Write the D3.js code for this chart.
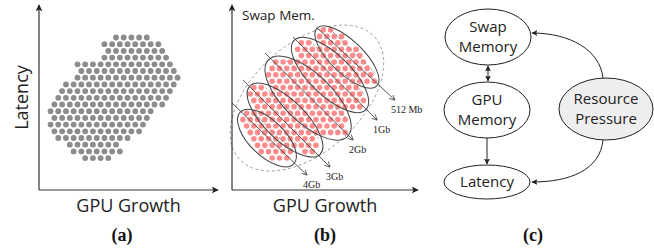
<!DOCTYPE html>
<html>
<head>
<meta charset="utf-8">
<script src="https://cdn.jsdelivr.net/npm/d3@7"></script>
<style>
  html, body { margin: 0; padding: 0; background: #fff; }
  svg { display: block; }
  .sans { font-family: "Open Sans", "Noto Sans", sans-serif; }
  .serif { font-family: "Liberation Serif", "DejaVu Serif", serif; }
</style>
</head>
<body>
<svg id="fig" width="654" height="249"></svg>
<script>
(function () {

  // ---- data (axis units 0-100) ----

  // (a) outline of the sample cloud
  var cloudOutline = [
    [50.8, 85.5], [60.3, 83.0], [70.4, 76.5], [78.5, 66.5], [78.0, 59.5],
    [72.1, 44.9], [65.9, 44.3], [62.0, 35.1], [53.6, 28.1], [46.4, 25.4],
    [46.9, 20.5], [33.0, 14.5], [27.4, 13.8], [17.3, 21.0], [7.0, 30.8],
    [5.0, 41.6], [11.7, 56.5], [21.2, 61.0], [21.2, 69.8], [35.2, 72.0],
    [35.8, 81.6], [49.7, 83.5]
  ];

  // (b) swap-memory clusters
  var memSizes  = ['4Gb', '3Gb', '2Gb', '1Gb', '512 Mb'];
  var clusterX  = [18.8, 28.5, 40.9, 52.7, 61.8];
  var clusterY  = [28.1, 37.8, 49.7, 62.2, 71.9];
  var clusterA  = [20.0, 26.3, 29.6, 26.8, 22.4];   // semi-major
  var clusterB  = [9.5, 10.8, 13.0, 11.0, 8.8];     // semi-minor
  var lineStart = [[0, 47.0], [5.9, 59.5], [17.7, 74.1], [32.8, 82.7], [45.7, 87.6]];
  var lineEnd   = [[40.3, 8.1], [52.7, 12.4], [65.1, 27.0], [78.0, 37.8], [87.6, 48.6]];
  var envelope  = [40.3, 49.7, 49.0, 29.0];        // cx, cy, a, b

  // (c) causal graph
  var nodeLabels = [['Swap', 'Memory'], ['GPU', 'Memory'], ['Latency'], ['Resource', 'Pressure']];
  var nodeX  = [58, 57, 57, 176];
  var nodeY  = [37, 110, 182, 109];
  var nodeRx = [43, 43, 43, 47];
  var nodeRy = [28, 28, 17, 31];

  var svg = d3.select('#fig');
  var defs = svg.append('defs');

  defs.append('marker').attr('id', 'axhead')
    .attr('viewBox', '0 0 10 10').attr('refX', 9).attr('refY', 5)
    .attr('markerWidth', 7).attr('markerHeight', 7)
    .attr('markerUnits', 'userSpaceOnUse').attr('orient', 'auto-start-reverse')
    .append('path').attr('d', 'M0,0L10,5L0,10L2.5,5Z').attr('fill', '#222');

  defs.append('marker').attr('id', 'thin')
    .attr('viewBox', '0 0 10 10').attr('refX', 9).attr('refY', 5)
    .attr('markerWidth', 6).attr('markerHeight', 6)
    .attr('markerUnits', 'userSpaceOnUse').attr('orient', 'auto')
    .append('path').attr('d', 'M0,0.5L9.5,5L0,9.5').attr('fill', 'none')
    .attr('stroke', '#333').attr('stroke-width', 1.2);

  defs.append('marker').attr('id', 'graph')
    .attr('viewBox', '0 0 10 10').attr('refX', 9).attr('refY', 5)
    .attr('markerWidth', 6).attr('markerHeight', 6)
    .attr('markerUnits', 'userSpaceOnUse').attr('orient', 'auto-start-reverse')
    .append('path').attr('d', 'M0,0L10,5L0,10L2,5Z').attr('fill', '#222');

  function axes(g, x, y, label) {
    g.append('line')
      .attr('x1', x(0)).attr('y1', y(0)).attr('x2', x(100)).attr('y2', y(0))
      .attr('stroke', '#333').attr('stroke-width', 1.2).attr('marker-end', 'url(#axhead)');
    g.append('line')
      .attr('x1', x(0)).attr('y1', y(0)).attr('x2', x(0)).attr('y2', y(100))
      .attr('stroke', '#333').attr('stroke-width', 1.2).attr('marker-end', 'url(#axhead)');
    g.append('text').attr('class', 'sans')
      .attr('x', x(50)).attr('y', y(0) + 22)
      .attr('text-anchor', 'middle').attr('font-size', 18).attr('fill', '#222')
      .text(label);
  }

  function caption(x, txt) {
    svg.append('text').attr('class', 'serif')
      .attr('x', x).attr('y', 241).attr('text-anchor', 'middle')
      .attr('font-size', 18).attr('font-weight', 'bold').attr('fill', '#111')
      .text(txt);
  }

  // ---- (a) ----
  var xa = d3.scaleLinear().domain([0, 100]).range([39, 218]);
  var ya = d3.scaleLinear().domain([0, 100]).range([190, 5]);
  var ga = svg.append('g');

  var polyPx = cloudOutline.map(function (p) { return [xa(p[0]), ya(p[1])]; });
  var dotsA = [];
  var stepX = 7.7 / 1.79, stepY = 6.7 / 1.85;
  for (var r = 0, yy = 10; yy < 90; yy += stepY, r++) {
    for (var xx = (r % 2) * stepX / 2; xx < 85; xx += stepX) {
      if (d3.polygonContains(polyPx, [xa(xx), ya(yy)])) dotsA.push([xx, yy]);
    }
  }
  ga.selectAll('circle').data(dotsA).join('circle')
    .attr('cx', function (d) { return xa(d[0]); })
    .attr('cy', function (d) { return ya(d[1]); })
    .attr('r', 2.9).attr('fill', '#8c8c8c');

  axes(ga, xa, ya, 'GPU Growth');
  ga.append('text').attr('class', 'sans')
    .attr('transform', 'translate(28,' + ya(50) + ') rotate(-90)')
    .attr('text-anchor', 'middle').attr('font-size', 18).attr('fill', '#222')
    .text('Latency');
  caption(122, '(a)');

  // ---- (b) ----
  var xb = d3.scaleLinear().domain([0, 100]).range([232, 418]);
  var yb = d3.scaleLinear().domain([0, 100]).range([190, 5]);
  var kb = xb(1) - xb(0);
  var gb = svg.append('g');
  var tilt = 44;

  function inCluster(px, py, i, pad) {
    var dx = px - xb(clusterX[i]), dy = py - yb(clusterY[i]);
    var t = tilt * Math.PI / 180;
    var u = dx * Math.cos(t) + dy * Math.sin(t);
    var v = -dx * Math.sin(t) + dy * Math.cos(t);
    var a = clusterA[i] * kb - pad, b = clusterB[i] * kb - pad;
    return (u * u) / (a * a) + (v * v) / (b * b) <= 1;
  }

  var dotsB = [];
  var sbx = 7.3 / 1.86, sby = 6.4 / 1.85;
  for (var rb = 0, y2 = 0; y2 < 100; y2 += sby, rb++) {
    for (var x2 = (rb % 2) * sbx / 2; x2 < 100; x2 += sbx) {
      var px = xb(x2), py = yb(y2);
      for (var i = 0; i < memSizes.length; i++) {
        if (inCluster(px, py, i, 2.5)) { dotsB.push([x2, y2]); break; }
      }
    }
  }

  gb.append('ellipse')
    .attr('transform', 'translate(' + xb(envelope[0]) + ',' + yb(envelope[1]) + ') rotate(-42)')
    .attr('rx', envelope[2] * kb).attr('ry', envelope[3] * kb)
    .attr('fill', 'none').attr('stroke', '#999').attr('stroke-width', 0.9)
    .attr('stroke-dasharray', '3,2.5');

  gb.selectAll('circle').data(dotsB).join('circle')
    .attr('cx', function (d) { return xb(d[0]); })
    .attr('cy', function (d) { return yb(d[1]); })
    .attr('r', 2.8).attr('fill', '#ff8c8c');

  gb.selectAll('ellipse.cluster').data(memSizes).join('ellipse')
    .attr('class', 'cluster')
    .attr('transform', function (d, i) {
      return 'translate(' + xb(clusterX[i]) + ',' + yb(clusterY[i]) + ') rotate(' + tilt + ')';
    })
    .attr('rx', function (d, i) { return clusterA[i] * kb; })
    .attr('ry', function (d, i) { return clusterB[i] * kb; })
    .attr('fill', 'none').attr('stroke', '#444').attr('stroke-width', 1);

  // dashed guide inside each cluster
  gb.selectAll('line.guide').data(memSizes).join('line')
    .attr('class', 'guide')
    .attr('transform', function (d, i) {
      return 'translate(' + xb(clusterX[i]) + ',' + yb(clusterY[i]) + ') rotate(' + tilt + ')';
    })
    .attr('x1', function (d, i) { return -clusterA[i] * kb * 0.75; })
    .attr('x2', function (d, i) { return clusterA[i] * kb * 0.75; })
    .attr('y1', function (d, i) { return -clusterB[i] * kb * 0.5; })
    .attr('y2', function (d, i) { return -clusterB[i] * kb * 0.5; })
    .attr('stroke', '#777').attr('stroke-width', 0.8).attr('stroke-dasharray', '2,2');

  gb.selectAll('line.size').data(memSizes).join('line')
    .attr('class', 'size')
    .attr('x1', function (d, i) { return xb(lineStart[i][0]); })
    .attr('y1', function (d, i) { return yb(lineStart[i][1]); })
    .attr('x2', function (d, i) { return xb(lineEnd[i][0]); })
    .attr('y2', function (d, i) { return yb(lineEnd[i][1]); })
    .attr('stroke', '#444').attr('stroke-width', 0.9).attr('marker-end', 'url(#thin)');

  gb.selectAll('text.size').data(memSizes).join('text')
    .attr('class', 'size serif')
    .attr('x', function (d, i) { return xb(lineEnd[i][0]) - 4; })
    .attr('y', function (d, i) { return yb(lineEnd[i][1]) + 13; })
    .attr('font-size', 10).attr('fill', '#222')
    .text(function (d) { return d; });

  axes(gb, xb, yb, 'GPU Growth');
  gb.append('text').attr('class', 'sans')
    .attr('x', xb(0) + 10).attr('y', 20)
    .attr('font-size', 13.5).attr('fill', '#222')
    .text('Swap Mem.');
  caption(325, '(b)');

  // ---- (c) ----
  var xc = d3.scaleLinear().domain([0, 224]).range([430, 654]);
  var yc = d3.scaleLinear().domain([0, 249]).range([0, 249]);
  var gc = svg.append('g');

  gc.selectAll('ellipse').data(nodeLabels).join('ellipse')
    .attr('cx', function (d, i) { return xc(nodeX[i]); })
    .attr('cy', function (d, i) { return yc(nodeY[i]); })
    .attr('rx', function (d, i) { return nodeRx[i]; })
    .attr('ry', function (d, i) { return nodeRy[i]; })
    .attr('fill', function (d, i) { return i === 3 ? '#eeeeee' : '#fff'; })
    .attr('stroke', '#222').attr('stroke-width', 1);

  nodeLabels.forEach(function (lines, i) {
    var t = gc.append('text').attr('class', 'sans')
      .attr('text-anchor', 'middle').attr('font-size', 15).attr('fill', '#222');
    var y0 = lines.length === 1 ? nodeY[i] + 5 : nodeY[i] - 5;
    lines.forEach(function (s, j) {
      t.append('tspan').attr('x', xc(nodeX[i])).attr('y', yc(y0 + j * 20)).text(s);
    });
  });

  // straight edges
  gc.append('line')
    .attr('x1', xc(58)).attr('y1', yc(nodeY[0] + nodeRy[0] + 1))
    .attr('x2', xc(58)).attr('y2', yc(nodeY[1] - nodeRy[1] - 1))
    .attr('stroke', '#222').attr('stroke-width', 1)
    .attr('marker-start', 'url(#graph)').attr('marker-end', 'url(#graph)');
  gc.append('line')
    .attr('x1', xc(57)).attr('y1', yc(nodeY[1] + nodeRy[1]))
    .attr('x2', xc(57)).attr('y2', yc(nodeY[2] - nodeRy[2] - 1))
    .attr('stroke', '#222').attr('stroke-width', 1)
    .attr('marker-end', 'url(#graph)');

  // curved edges from Resource Pressure
  var p1 = d3.path();
  p1.moveTo(xc(173), yc(nodeY[3] - nodeRy[3]));
  p1.bezierCurveTo(xc(170), yc(50), xc(140), yc(33), xc(102), yc(33));
  var p2 = d3.path();
  p2.moveTo(xc(173), yc(nodeY[3] + nodeRy[3]));
  p2.bezierCurveTo(xc(170), yc(170), xc(140), yc(182), xc(102), yc(182));
  [p1, p2].forEach(function (p) {
    gc.append('path').attr('d', p.toString())
      .attr('fill', 'none').attr('stroke', '#222').attr('stroke-width', 1)
      .attr('marker-end', 'url(#graph)');
  });

  caption(533, '(c)');

})();
</script>
</body>
</html>
